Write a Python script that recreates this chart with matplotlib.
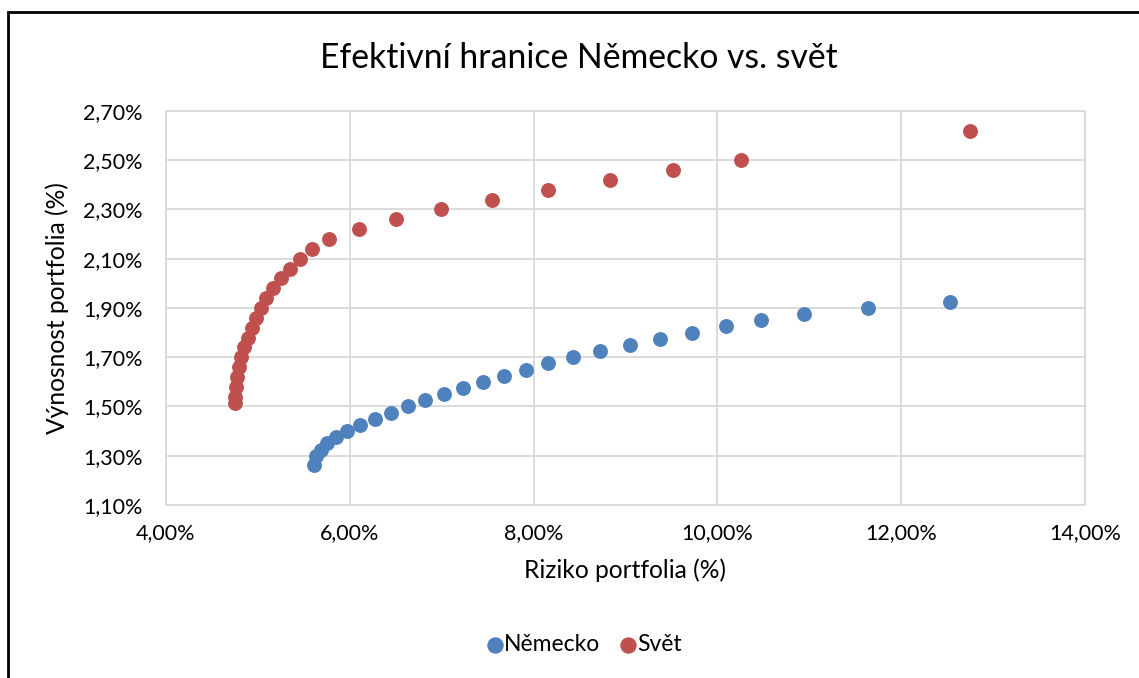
import numpy as np
import matplotlib
matplotlib.use("Agg")
import matplotlib.pyplot as plt
from matplotlib.ticker import FuncFormatter, FixedLocator
from matplotlib.patches import Rectangle

plt.rcParams['font.family'] = ['Lato', 'DejaVu Sans']

# riziko (%) a vynosnost (%) - Nemecko
nem_risk = [5.61, 5.63, 5.69, 5.75, 5.85, 5.97, 6.11, 6.27, 6.45, 6.63, 6.82, 7.02, 7.23,
            7.45, 7.68, 7.92, 8.16, 8.43, 8.72, 9.05, 9.38, 9.72, 10.09, 10.47, 10.94,
            11.64, 12.53]
nem_ret = [1.262, 1.300, 1.325, 1.350, 1.375, 1.400, 1.425, 1.450, 1.475, 1.500, 1.525,
           1.550, 1.575, 1.600, 1.625, 1.650, 1.675, 1.700, 1.725, 1.750, 1.775, 1.800,
           1.825, 1.850, 1.875, 1.900, 1.925]

# svet
svet_risk = [4.75, 4.75, 4.76, 4.77, 4.79, 4.82, 4.85, 4.89, 4.94, 4.98, 5.03, 5.09, 5.17,
             5.25, 5.35, 5.46, 5.59, 5.77, 6.10, 6.50, 6.99, 7.55, 8.16, 8.83, 9.52,
             10.26, 12.75]
svet_ret = [1.515, 1.540, 1.580, 1.620, 1.660, 1.700, 1.740, 1.780, 1.820, 1.860, 1.900,
            1.940, 1.980, 2.020, 2.060, 2.100, 2.140, 2.180, 2.220, 2.260, 2.300, 2.340,
            2.380, 2.420, 2.460, 2.500, 2.620]

x_ticks = [4, 6, 8, 10, 12, 14]
y_ticks = [1.1, 1.3, 1.5, 1.7, 1.9, 2.1, 2.3, 2.5, 2.7]

fig = plt.figure(figsize=(11.39, 6.78), dpi=100)
ax = fig.add_axes([0.1457, 0.2552, 0.8069, 0.5811])

ax.scatter(nem_risk, nem_ret, s=115, color='#4F81BD', label='Německo', zorder=3, linewidths=0)
ax.scatter(svet_risk, svet_ret, s=115, color='#C0504D', label='Svět', zorder=3, linewidths=0)

ax.set_xlim(4, 14)
ax.set_ylim(1.1, 2.7)
ax.xaxis.set_major_locator(FixedLocator(x_ticks))
ax.yaxis.set_major_locator(FixedLocator(y_ticks))
fmt = FuncFormatter(lambda v, p: ('%.2f%%' % v).replace('.', ','))
ax.xaxis.set_major_formatter(fmt)
ax.yaxis.set_major_formatter(fmt)
ax.tick_params(length=0, labelsize=15.5, colors='#000000')
ax.tick_params(axis='y', pad=17)
ax.tick_params(axis='x', pad=13)
ax.grid(color='#d9d9d9', linewidth=1.3)
ax.set_axisbelow(True)
for s in ax.spines.values():
    s.set_color('#d9d9d9')
    s.set_linewidth(1.3)

ax.set_xlabel('Riziko portfolia (%)', fontsize=17.7, labelpad=11)
ax.set_ylabel('Výnosnost portfolia (%)', fontsize=17.7, labelpad=10)
fig.text(0.5083, 0.914, 'Efektivní hranice Německo vs. svět', fontsize=24.3,
         ha='center', va='center')

ax.legend(loc='center', bbox_to_anchor=(0.5062, 0.049), bbox_transform=fig.transFigure,
          ncol=2, frameon=False, fontsize=16.5, handletextpad=-0.6, columnspacing=0.2,
          markerscale=1.1)

# ramecek grafu (vpravo a dole oriznuty)
fig.patches.append(Rectangle((8 / 1139, -0.1), 1.2, 1.1 - 12 / 678, transform=fig.transFigure,
                             fill=False, edgecolor='black', linewidth=2))

fig.savefig('out.png', dpi=100)
